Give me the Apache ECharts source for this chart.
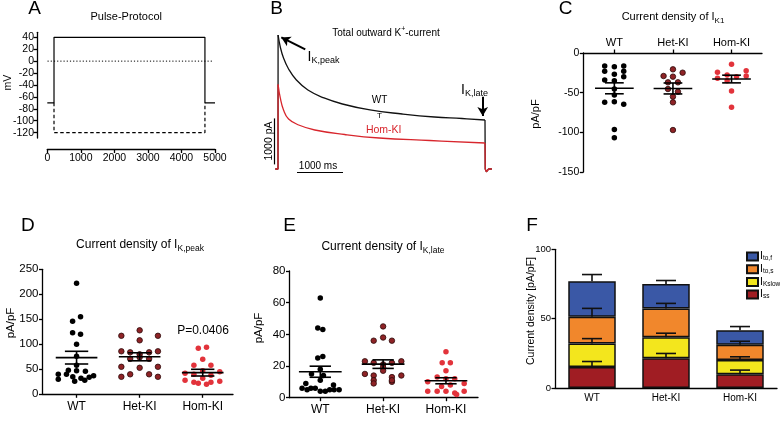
<!DOCTYPE html>
<html><head><meta charset="utf-8">
<script src="https://cdn.jsdelivr.net/npm/echarts@6/dist/echarts.min.js"></script>
<style>html,body{margin:0;padding:0;background:#fff}#c{width:780px;height:429px}</style>
</head><body><div id="c"></div>
<script>
// ---------- DATA ----------
const groups = ['WT', 'Het-KI', 'Hom-KI'];
// A: pulse protocol (ms, mV)
const protoSolidT = [0, 200, 200, 4700, 4700, 5000];
const protoSolidV = [-70, -70, 40, 40, -70, -70];
const protoDashT = [200, 200, 4700, 4700];
const protoDashV = [-70, -120, -120, -70];
const zeroLineT = [-280, 4950];
const zeroLineV = [0, 0];
const aYTicks = [-120, -100, -80, -60, -40, -20, 0, 20, 40];
// B: current traces (ms, pA)
const wtTraceT = [-60, 0, 2, 50, 120, 230, 400, 650, 1000, 1400, 2000, 2700, 3400, 4000, 4500, 4505, 4530, 4580, 4650];
const wtTraceI = [0, 0, 2913, 2652, 2413, 2174, 1935, 1717, 1544, 1413, 1283, 1196, 1130, 1098, 1065, 0, -60, 0, 0];
const homTraceT = [-60, 0, 2, 50, 120, 230, 450, 800, 1450, 2200, 3300, 4500, 4505, 4530, 4580, 4650];
const homTraceI = [0, 0, 1837, 1544, 1283, 1087, 957, 848, 750, 674, 620, 565, 0, -60, 0, 0];
// C: I_K1 density (pA/pF) + jitter offsets
const cWT = [-16.4, -17.2, -16.4, -23.1, -23.1, -26.9, -29.8, -34.0, -34.9, -45.4, -53.0, -62.2, -61.3, -64.7, -96.3, -106.8];
const cWTj = [-0.165, 0, 0.16, -0.165, 0.16, 0, 0.16, -0.165, 0, 0, 0, -0.165, 0, 0.16, 0, 0];
const cHet = [-20.6, -29.0, -24.8, -29.8, -37.0, -37.0, -45.4, -48.8, -55.0, -62.2, -97.1];
const cHetj = [0, -0.16, 0.165, 0, -0.085, 0.085, -0.085, 0.085, 0, 0, 0];
const cHom = [-14.3, -24.4, -22.3, -27.7, -29.8, -31.9, -28.9, -35.0, -47.9, -68.5];
const cHomj = [0, -0.24, 0.25, -0.075, 0.085, -0.24, 0.25, -0.075, 0, 0];
const cMean = [-44.5, -44.7, -32.8];
const cSem = [6.9, 6.9, 4.85];
// D: I_K,peak density
const dWT = [222, 155, 146, 123, 120, 100, 76, 58, 48, 47, 46, 40, 40, 37, 35, 34, 32, 30, 28, 26];
const dWTj = [0, 0.063, -0.063, -0.063, 0.063, 0, 0, 0, -0.13, 0, 0.14, -0.29, -0.16, 0.27, -0.06, 0.2, 0.07, -0.29, 0.13, -0.03];
const dHet = [128, 117, 117, 108, 86, 86, 84, 84, 80, 74, 71, 71, 55, 55, 53, 40, 40, 35, 35];
const dHetj = [0, -0.29, 0.29, 0, -0.29, 0.29, -0.15, 0.15, 0, 0, -0.15, 0.15, -0.29, 0.29, 0, -0.15, 0.15, -0.29, 0.29];
const dHom = [92, 94, 70, 58, 58, 47, 42, 45, 40, 38, 32, 28, 26, 24, 24, 20, 22];
const dHomj = [-0.07, 0.06, 0, -0.14, 0.13, 0, -0.28, 0.27, -0.14, 0.13, 0, -0.28, 0.27, -0.14, 0.13, 0.06, -0.07];
const dMean = [73.3, 75.0, 43.3];
const dSem = [12.7, 8.0, 6.7];
// E: I_K,late density
const eWT = [63, 44, 43, 26, 25, 18, 15, 14, 11, 9, 8, 6, 6, 5, 5, 5, 4, 5, 6, 4];
const eWTj = [0, -0.04, 0.04, 0.04, -0.04, 0, -0.14, 0.05, 0, -0.23, 0.21, -0.29, -0.08, 0.15, -0.21, 0.3, 0, 0.22, -0.15, 0.08];
const eHet = [45, 38, 36, 36, 23, 23, 22, 22, 21, 19, 15, 14, 14, 13, 11, 10, 17, 9, 11];
const eHetj = [0, 0, -0.15, 0.14, -0.29, 0.29, -0.15, 0.14, 0, 0, -0.29, 0.29, -0.15, 0.14, -0.15, 0.14, 0, -0.15, 0.14];
const eHom = [29, 22, 22, 17, 13, 12, 12, 10, 9, 4, 4, 4, 3, 4, 2, 7, 8];
const eHomj = [0, -0.06, 0.07, 0, -0.14, 0, 0.14, -0.29, 0.29, -0.29, -0.14, 0, 0.14, 0.29, 0.17, -0.07, 0.07];
const eMean = [16.4, 21.2, 10.7];
const eSem = [3.5, 2.7, 1.9];
// F: stacked components (pA/pF) and SEM
const fNames = ['Iss', 'IKslow', 'Ito,s', 'Ito,f'];
const fIss = [15.1, 21.5, 10.0];
const fIKslow = [16.9, 15.1, 10.1];
const fItos = [19.4, 20.8, 11.0];
const fItof = [25.6, 17.5, 10.5];
const fIssErr = [4.0, 3.4, 2.9];
const fIKslowErr = [3.6, 2.9, 2.4];
const fItosErr = [6.0, 3.6, 2.6];
const fItofErr = [4.8, 2.6, 2.7];

// ---------- HELPERS ----------
const FF = '"Liberation Sans", Arial, Helvetica, sans-serif';
const fnt = fs => fs + 'px ' + FF;
const zip = (a, b) => a.map((v, i) => [v, b[i]]);
const pts = (vals, jit, off) => vals.map((v, i) => [off + jit[i], v]);
const stats = (m, s) => m.map((v, i) => [i, v, s[i]]);
const AX = '#000';
const axisBase = (fs, margin) => ({
  axisLine: { show: true, onZero: false, lineStyle: { color: AX, width: 1.3 } },
  axisTick: { show: true, length: 3.5, lineStyle: { color: AX, width: 1.3 } },
  axisLabel: { color: '#000', fontSize: fs, fontFamily: FF, margin: margin },
  splitLine: { show: false }
});
function catX(gi, min, max, fs, margin, pos) {
  const a = axisBase(fs, margin);
  a.axisTick.customValues = [0, 1, 2];
  a.axisLabel.customValues = [0, 1, 2];
  a.axisLabel.formatter = v => groups[Math.round(v)];
  return Object.assign({ gridIndex: gi, type: 'value', min, max, position: pos || 'bottom' }, a);
}
function valY(gi, min, max, interval, fs, margin) {
  return Object.assign({ gridIndex: gi, type: 'value', min, max, interval }, axisBase(fs, margin));
}
function meanSem(gi, data, hm, hc) {
  return {
    type: 'custom', xAxisIndex: gi, yAxisIndex: gi, data, z: 5, silent: true,
    encode: { x: 0, y: 1 },
    renderItem: function (params, api) {
      const x = api.value(0), m = api.value(1), s = api.value(2);
      const c = (a, b) => api.coord([a, b]);
      const st = { stroke: '#000', lineWidth: 1.6 };
      const L = (p, q) => ({ type: 'line', shape: { x1: p[0], y1: p[1], x2: q[0], y2: q[1] }, style: st });
      return { type: 'group', children: [
        L(c(x - hm, m), c(x + hm, m)),
        L(c(x - hc, m + s), c(x + hc, m + s)),
        L(c(x - hc, m - s), c(x + hc, m - s)),
        L(c(x, m - s), c(x, m + s))
      ] };
    }
  };
}
function scat(gi, data, color, border) {
  return { type: 'scatter', xAxisIndex: gi, yAxisIndex: gi, data, symbolSize: 5.5, z: 3, silent: true,
    itemStyle: { color, borderColor: border || color, borderWidth: border ? 0.8 : 0, opacity: 1 } };
}
const cWTc = '#000', cHetc = '#8e2326', cHomc = '#e2333b';

// ---------- GRIDS ----------
const grids = [
  { left: 47.3, top: 32.3, width: 167.7, height: 105.7 },   // A
  { left: 264.2, top: 21.8, width: 234.6, height: 156.4 },  // B
  { left: 583.3, top: 53, width: 178.7, height: 119 },      // C
  { left: 42.5, top: 269.3, width: 190.5, height: 125 },    // D
  { left: 289.5, top: 271, width: 188.5, height: 126.7 },   // E
  { left: 555, top: 249.3, width: 222, height: 138.7 }      // F
].map(g => Object.assign({ outerBoundsMode: 'none', containLabel: false }, g));

// A axes
const aX = Object.assign({ gridIndex: 0, type: 'value', min: 0, max: 5000, interval: 1000, offset: 11 }, axisBase(10.5, 4));
aX.axisTick.length = 4;
aX.axisLabel.formatter = v => String(v);
const aY = Object.assign({ gridIndex: 0, type: 'value', min: -129, max: 48.4, offset: 10.3 }, axisBase(10.5, 3));
aY.axisTick.customValues = aYTicks;
aY.axisLabel.customValues = aYTicks;
aY.axisLabel.formatter = v => String(v);

const xAxes = [
  aX,
  { gridIndex: 1, type: 'value', min: -300, max: 4800, show: false },
  catX(2, -0.53, 2.52, 11, 5, 'top'),
  catX(3, -0.54, 2.48, 12, 6),
  catX(4, -0.49, 2.51, 12, 5.5),
  Object.assign({ gridIndex: 5, type: 'category', data: groups }, axisBase(10, 5), { axisTick: { show: false } })
];
const yAxes = [
  aY,
  { gridIndex: 1, type: 'value', min: -200, max: 3200, show: false },
  valY(2, -150, 0, 50, 10.5, 4),
  valY(3, 0, 250, 50, 11.5, 4),
  valY(4, 0, 80, 20, 11.5, 4),
  valY(5, 0, 100, 50, 9.5, 4)
];

// ---------- SERIES ----------
const series = [];
// A
series.push({ type: 'line', xAxisIndex: 0, yAxisIndex: 0, data: zip(protoSolidT, protoSolidV), symbol: 'none', clip: false,
  lineStyle: { color: '#000', width: 1.2 } });
series.push({ type: 'line', xAxisIndex: 0, yAxisIndex: 0, data: zip(protoDashT, protoDashV), symbol: 'none', clip: false,
  lineStyle: { color: '#000', width: 1.2, type: [3.5, 2.5] } });
series.push({ type: 'line', xAxisIndex: 0, yAxisIndex: 0, data: zip(zeroLineT, zeroLineV), symbol: 'none', clip: false,
  lineStyle: { color: '#000', width: 1, type: [1.2, 2] } });
// B
const ln = (a, b, w, endSym) => [
  { coord: a, symbol: 'none', lineStyle: { color: '#000', width: w, type: 'solid' } },
  { coord: b, symbol: endSym || 'none', symbolSize: endSym ? [8, 9] : 0, lineStyle: { color: '#000', width: w, type: 'solid' } }
];
// trace split: rise (unsmoothed), decay (smoothed), off-step (unsmoothed)
function traceSeries(T, I, color, extra) {
  const all = zip(T, I);
  const peakIdx = 2, endIdx = T.length - 5;
  const base = { type: 'line', xAxisIndex: 1, yAxisIndex: 1, symbol: 'none', clip: false, silent: true,
    lineStyle: { color, width: 1.3 } };
  return [
    Object.assign({}, base, { data: all.slice(0, peakIdx + 1) }),
    Object.assign({}, base, { data: all.slice(peakIdx, endIdx + 1), smooth: 0.45 }, extra || {}),
    Object.assign({}, base, { data: all.slice(endIdx) })
  ];
}
traceSeries(wtTraceT, wtTraceI, '#111', {
  markLine: { silent: true, animation: false, symbol: 'none', label: { show: false },
    data: [
      ln([413, -60], [1413, -60], 1.2),
      ln([-72, 100], [-72, 1100], 1.2),
      ln([593, 2600], [72, 2860], 2, 'arrow'),
      ln([4450, 1572], [4450, 1150], 2, 'arrow')
    ] } }).forEach(s => series.push(s));
traceSeries(homTraceT, homTraceI, '#d8262d').forEach(s => series.push(s));
// C
series.push(scat(2, pts(cWT, cWTj, 0), cWTc));
series.push(scat(2, pts(cHet, cHetj, 1), cHetc, '#2b0a0a'));
series.push(scat(2, pts(cHom, cHomj, 2), cHomc));
series.push(meanSem(2, stats(cMean, cSem), 0.33, 0.16));
// D
series.push(scat(3, pts(dWT, dWTj, 0), cWTc));
series.push(scat(3, pts(dHet, dHetj, 1), cHetc, '#2b0a0a'));
series.push(scat(3, pts(dHom, dHomj, 2), cHomc));
series.push(meanSem(3, stats(dMean, dSem), 0.33, 0.185));
// E
series.push(scat(4, pts(eWT, eWTj, 0), cWTc));
series.push(scat(4, pts(eHet, eHetj, 1), cHetc, '#2b0a0a'));
series.push(scat(4, pts(eHom, eHomj, 2), cHomc));
series.push(meanSem(4, stats(eMean, eSem), 0.34, 0.17));
// F
const fVals = [fIss, fIKslow, fItos, fItof];
const fErrs = [fIssErr, fIKslowErr, fItosErr, fItofErr];
const fColors = ['#a01d23', '#f3e61d', '#f1872c', '#3a58a6'];
fVals.forEach((vals, k) => {
  series.push({ type: 'bar', name: fNames[k], xAxisIndex: 5, yAxisIndex: 5, stack: 'f', data: vals, barWidth: 47.5,
    itemStyle: { color: fColors[k], borderColor: '#111', borderWidth: 1.5 }, silent: true });
});
const errData = [];
groups.forEach((g, gi) => {
  let cum = 0;
  fVals.forEach((vals, k) => { cum += vals[gi]; errData.push([gi, cum, fErrs[k][gi]]); });
});
series.push({ type: 'custom', xAxisIndex: 5, yAxisIndex: 5, data: errData, z: 6, silent: true, encode: { x: 0, y: 1 },
  renderItem: function (params, api) {
    const x = api.value(0), top = api.value(1), e = api.value(2);
    const p = api.coord([x, top]), q = api.coord([x, top + e]);
    const hw = api.size([1, 0])[0] * 0.135;
    const st = { stroke: '#111', lineWidth: 1.6 };
    return { type: 'group', children: [
      { type: 'line', shape: { x1: p[0], y1: p[1], x2: q[0], y2: q[1] }, style: st },
      { type: 'line', shape: { x1: q[0] - hw, y1: q[1], x2: q[0] + hw, y2: q[1] }, style: st }
    ] };
  } });

// ---------- TEXT ----------
const tok = (fs, pad, color) => ({ font: fnt(fs), fill: color || '#000', lineHeight: fs + 1, verticalAlign: 'top', padding: [pad || 0, 0, 0, 0] });
function txt(x, y, text, fs, opt) {
  opt = opt || {};
  return { type: 'text', x, y, rotation: opt.rot || 0, silent: true, z: 10,
    style: { text, font: fnt(fs), fill: opt.color || '#000', textAlign: opt.align || 'center', textVerticalAlign: 'middle' } };
}
function rtxt(x, y, text, rich, opt) {
  opt = opt || {};
  return { type: 'text', x, y, rotation: opt.rot || 0, silent: true, z: 10,
    style: { text, rich, textAlign: opt.align || 'center', textVerticalAlign: 'middle' } };
}
const R = Math.PI / 2;
const graphic = [
  txt(34.5, 9, 'A', 19), txt(276.7, 9, 'B', 19), txt(565.5, 9, 'C', 19),
  txt(27.8, 226, 'D', 19), txt(289.7, 226, 'E', 19), txt(532, 226, 'F', 19),
  txt(126.2, 16.5, 'Pulse-Protocol', 11),
  txt(8.3, 82.5, 'mV', 10.5, { rot: R }),
  rtxt(386, 31.5, '{m|Total outward K}{p|+}{m|-current}', { m: tok(10, 2), p: tok(7, 0) }),
  rtxt(307.5, 58, '{m|I}{s|K,peak}', { m: tok(14, 0), s: tok(9, 6) }, { align: 'left' }),
  rtxt(461, 91, '{m|I}{s|K,late}', { m: tok(14, 0), s: tok(9, 6) }, { align: 'left' }),
  txt(379.5, 100.5, 'WT', 10),
  txt(379.5, 115.5, 'T', 8),
  txt(383.7, 130, 'Hom-KI', 10.5, { color: '#d8262d' }),
  txt(269.5, 141, '1000 pA', 10.5, { rot: R }),
  txt(318, 166, '1000 ms', 10),
  rtxt(673, 17.5, '{m|Current density of I}{s|K1}', { m: tok(11, 0), s: tok(8, 5) }),
  txt(535.8, 114, 'pA/pF', 11, { rot: R }),
  rtxt(140, 245.5, '{m|Current density of I}{s|K,peak}', { m: tok(12, 0), s: tok(8.5, 5) }),
  txt(10.5, 323, 'pA/pF', 11.5, { rot: R }),
  txt(203, 330.7, 'P=0.0406', 12),
  rtxt(383, 247.5, '{m|Current density of I}{s|K,late}', { m: tok(12, 0), s: tok(8.5, 5) }),
  txt(259, 328, 'pA/pF', 11.5, { rot: R }),
  txt(531, 311, 'Current density [pA/pF]', 10.5, { rot: R })
];

const legendLabel = { 'Ito,f': '{m|I}{s|to,f}', 'Ito,s': '{m|I}{s|to,s}', 'IKslow': '{m|I}{s|Kslow}', 'Iss': '{m|I}{s|ss}' };

const chart = echarts.init(document.getElementById('c'), null, { renderer: 'canvas' });
chart.setOption({
  animation: false,
  backgroundColor: '#fff',
  textStyle: { fontFamily: FF },
  grid: grids,
  xAxis: xAxes,
  yAxis: yAxes,
  legend: {
    data: ['Ito,f', 'Ito,s', 'IKslow', 'Iss'], orient: 'vertical', left: 746, top: 251,
    itemWidth: 11, itemHeight: 8, itemGap: 1.7, icon: 'rect', selectedMode: false, padding: 0,
    formatter: n => legendLabel[n],
    textStyle: { overflow: 'none', padding: [0, 0, 0, -3], rich: {
      m: { fontSize: 10.5, fontFamily: FF, color: '#000', lineHeight: 11, verticalAlign: 'top' },
      s: { fontSize: 6.5, fontFamily: FF, color: '#000', lineHeight: 7, verticalAlign: 'top', padding: [4, 0, 0, 0] }
    } }
  },
  series,
  graphic
});
</script></body></html>
